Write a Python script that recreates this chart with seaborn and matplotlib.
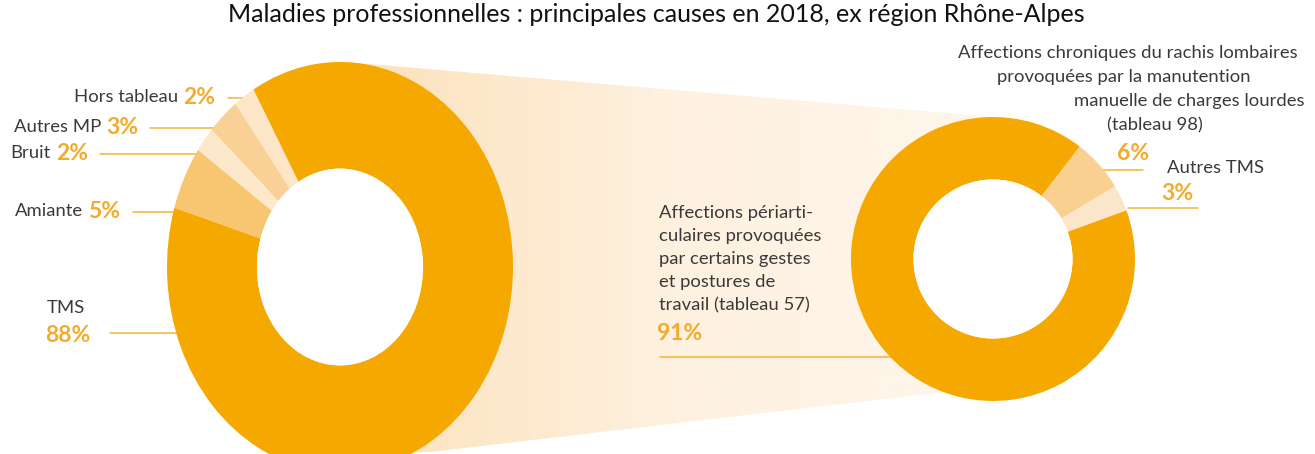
import numpy as np
import matplotlib
matplotlib.use("Agg")
import matplotlib.pyplot as plt
from matplotlib.colors import LinearSegmentedColormap
from matplotlib.patches import Polygon, Ellipse
import seaborn as sns

# ---- data ---------------------------------------------------------------
main_labels = ["Hors tableau", "Autres MP", "Bruit", "Amiante", "TMS"]
main_values = [2, 3, 2, 5, 88]
main_colors = ["#FDE6C8", "#F9D196", "#FDE8CC", "#F8C670", "#F5A800"]

tms_labels = ["Autres TMS",
              "Affections chroniques du rachis lombaires",
              "Affections périarticulaires"]
tms_values = [3, 6, 91]
tms_colors = ["#FCE6CB", "#F9D08F", "#F5A800"]

title = "Maladies professionnelles : principales causes en 2018, ex région Rhône-Alpes"

# ---- style --------------------------------------------------------------
sns.set_theme(style="white")
plt.rcParams["font.family"] = ["Lato", "DejaVu Sans"]

W, H = 1315, 454
fig = plt.figure(figsize=(W / 100, H / 100), dpi=100)
fig.patch.set_facecolor("white")

TXT = "#3a3a3a"
PCT = "#F2AB2C"
LINE = "#F4B33C"

# background canvas in pixel units
bg = fig.add_axes([0, 0, 1, 1])
bg.set_xlim(0, W)
bg.set_ylim(H, 0)
bg.axis("off")

# funnel linking the TMS slice to its breakdown
funnel_pts = [(345, 62), (993, 117), (1000, 259), (944, 392), (430, 452), (345, 454)]
funnel = Polygon(funnel_pts, closed=True, facecolor="none", edgecolor="none")
bg.add_patch(funnel)
grad = np.linspace(0, 1, 256).reshape(1, -1)
cmap = LinearSegmentedColormap.from_list("peach", ["#FCE1BA", "#FEF1DF", "#FEF6EC"])
im = bg.imshow(grad, cmap=cmap, extent=(345, 1000, 454, 62), aspect="auto", zorder=0)
im.set_clip_path(funnel)


def donut(cx, cy, rx, ry, values, colors, start, hole):
    ax = fig.add_axes([(cx - rx) / W, (H - cy - ry) / H, 2 * rx / W, 2 * ry / H])
    ax.pie(values, colors=colors, startangle=start, counterclock=True,
           radius=1, wedgeprops=dict(width=1 - hole, linewidth=0))
    ax.add_patch(Ellipse((0, 0), 2 * hole, 2 * hole, facecolor="white", edgecolor="none"))
    ax.set_aspect("auto")
    ax.set_xlim(-1, 1)
    ax.set_ylim(-1, 1)
    ax.axis("off")
    ax.patch.set_alpha(0)
    return ax


donut(340, 267, 173, 205, main_values, main_colors, 120, 0.48)
donut(993, 259, 142, 142, tms_values, tms_colors, 20, 0.56)

# ---- title ---------------------------------------------------------------
bg.text(656, 15, title, ha="center", va="center", fontsize=18, color="#111111")

# ---- left labels ---------------------------------------------------------
LFS, PFS = 13.3, 16.5


def label(x_right, y, name, pct, line_from, line_to):
    bg.text(x_right, y, name, ha="right", va="center", fontsize=LFS, color=TXT)
    bg.text(x_right + 5, y, pct, ha="left", va="center", fontsize=PFS,
            color=PCT, fontweight="bold")
    bg.plot([line_from, line_to], [y + 1, y + 1], color=LINE, lw=1.1)


label(178, 97, main_labels[0], f"{main_values[0]}%", 228, 254)
label(101, 127, main_labels[1], f"{main_values[1]}%", 150, 224)
label(51, 153, main_labels[2], f"{main_values[2]}%", 100, 202)
label(83, 211, main_labels[3], f"{main_values[3]}%", 133, 176)

bg.text(47, 308, main_labels[4], ha="left", va="center", fontsize=LFS, color=TXT)
bg.text(45, 335, f"{main_values[4]}%", ha="left", va="center", fontsize=PFS,
        color=PCT, fontweight="bold")
bg.plot([110, 178], [333, 333], color=LINE, lw=1.1)

# ---- right labels --------------------------------------------------------
peri_lines = ["Affections périarti-", "culaires provoquées", "par certains gestes",
              "et postures de", "travail (tableau 57)"]
for i, s in enumerate(peri_lines):
    bg.text(659, 213 + 23 * i, s, ha="left", va="center", fontsize=LFS, color=TXT)
bg.text(657, 334, f"{tms_values[2]}%", ha="left", va="center", fontsize=PFS,
        color=PCT, fontweight="bold")
bg.plot([660, 890], [357, 357], color=LINE, lw=1.1)

rachis_lines = [("Affections chroniques du rachis lombaires", 958, 53),
                ("provoquées par la manutention", 997, 77),
                ("manuelle de charges lourdes", 1074, 101),
                ("(tableau 98)", 1107, 125)]
for s, x, y in rachis_lines:
    bg.text(x, y, s, ha="left", va="center", fontsize=LFS, color=TXT)
bg.text(1117, 154, f"{tms_values[1]}%", ha="left", va="center", fontsize=PFS,
        color=PCT, fontweight="bold")
bg.plot([1103, 1143], [170, 170], color=LINE, lw=1.1)

bg.text(1167, 168, tms_labels[0], ha="left", va="center", fontsize=LFS, color=TXT)
bg.text(1161, 193, f"{tms_values[0]}%", ha="left", va="center", fontsize=PFS,
        color=PCT, fontweight="bold")
bg.plot([1128, 1198], [208, 208], color=LINE, lw=1.1)

fig.savefig("out.png", dpi=100, facecolor="white")
